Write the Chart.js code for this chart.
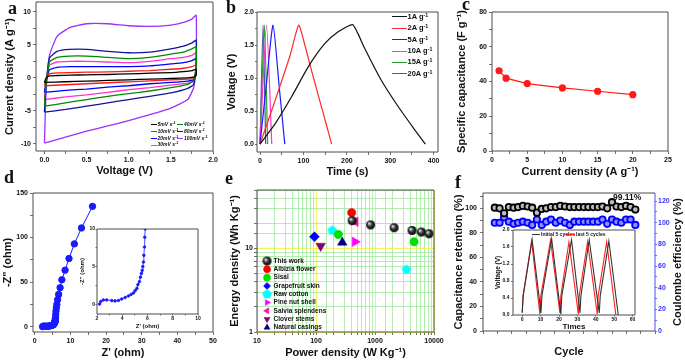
<!DOCTYPE html>
<html>
<head>
<meta charset="utf-8">
<script src="https://cdn.jsdelivr.net/npm/chart.js"></script>
<style>
  body { margin: 0; background: #fff; }
  #fig { position: relative; width: 685px; height: 362px; overflow: hidden; background: #fff;
         font-family: 'Liberation Sans', Arial, sans-serif; font-weight: bold; color: #111; }
  #fig canvas { position: absolute; }
  .tag { position: absolute; font: bold 18px 'Liberation Serif', 'Times New Roman', serif; line-height: 18px; }
  .leg { position: absolute; white-space: nowrap; line-height: 1; }
  .leg i { display: inline-block; vertical-align: middle; height: 0; border-top: 1.5px solid; margin-right: 1px; }
  .txt { position: absolute; white-space: nowrap; line-height: 1; }
  sup { font-size: 70%; vertical-align: 0.45em; line-height: 0; }
</style>
</head>
<body>
<div id="fig"></div>
<script>
// ---------- a: CV loops, current (A/g) along one shared voltage path ----------
const cvVolt = [0.00, 0.02, 0.06, 0.15, 0.30, 0.50, 0.75, 1.00, 1.25, 1.50, 1.65, 1.75, 1.80, 1.80, 1.77, 1.70, 1.50, 1.25, 1.00, 0.75, 0.50, 0.25, 0.00];
const cv5   = [-0.7, 0.0, 0.3, 0.35, 0.4, 0.45, 0.5, 0.6, 0.7, 0.8, 0.95, 1.1, 1.3, 0.4, 0.1, 0.0, -0.1, -0.2, -0.3, -0.4, -0.5, -0.6, -0.7];
const cv10  = [-1.2, -0.2, 0.6, 0.75, 0.8, 0.85, 0.9, 1.0, 1.1, 1.3, 1.45, 1.7, 1.95, 0.5, -0.1, -0.2, -0.3, -0.45, -0.6, -0.75, -0.9, -1.05, -1.2];
const cv20  = [-2.2, -0.5, 1.2, 1.6, 1.7, 1.7, 1.7, 1.7, 1.8, 2.1, 2.3, 2.6, 2.9, 0.8, -0.3, -0.5, -0.7, -0.9, -1.2, -1.4, -1.7, -1.9, -2.2];
const cv30  = [-3.3, -0.8, 1.9, 2.4, 2.5, 2.5, 2.4, 2.3, 2.5, 2.9, 3.1, 3.4, 3.8, 1.0, -0.5, -0.8, -1.1, -1.5, -1.8, -2.2, -2.6, -2.9, -3.3];
const cv40  = [-4.3, -1.0, 2.4, 3.1, 3.3, 3.3, 3.1, 2.9, 3.1, 3.6, 3.9, 4.4, 4.7, 1.5, -0.4, -1.0, -1.5, -2.0, -2.4, -2.8, -3.3, -3.8, -4.3];
const cv80  = [-5.2, -1.0, 3.0, 4.0, 4.3, 4.3, 4.0, 3.8, 3.9, 4.4, 4.8, 5.3, 5.7, 2.0, -1.0, -1.6, -2.3, -2.8, -3.3, -3.8, -4.3, -4.8, -5.2];
const cv100 = [-9.9, -2.0, 3.4, 6.3, 7.6, 8.2, 8.2, 7.9, 7.8, 8.0, 8.4, 8.9, 9.5, 1.0, -1.5, -3.3, -4.6, -5.6, -6.5, -7.3, -8.1, -9.0, -9.9];
const cvRates  = ['5mV', '40mV', '10mV', '80mV', '20mV', '100mV', '30mV'];
const cvSeries = [cv5, cv40, cv10, cv80, cv20, cv100, cv30];
const cvColors = ['#000000', '#008a00', '#ff1a1a', '#14149a', '#0000ff', '#9b30ff', '#ff33cc'];

// ---------- b: charge / discharge ----------
const gcdRates = ['1A', '2A', '5A', '10A', '15A', '20A'];
const gcdT1 = [0, 35, 73, 111, 149, 180, 213, 225, 241, 279, 317, 356, 381];
const gcdV1 = [0, 0.31, 0.72, 1.17, 1.52, 1.70, 1.81, 1.68, 1.45, 0.97, 0.58, 0.22, 0];
const gcdT2 = [0, 20, 45, 70, 89, 100, 120, 145, 165];
const gcdV2 = [0, 0.38, 0.86, 1.36, 1.8, 1.58, 1.08, 0.48, 0];
const gcdT5 = [0, 15, 30, 44, 57];
const gcdV5 = [0, 0.93, 1.8, 0.88, 0];
const gcdT10 = [0, 15, 27];
const gcdV10 = [0, 1.8, 0];
const gcdT15 = [0, 10, 17.5];
const gcdV15 = [0, 1.8, 0];
const gcdT20 = [0, 7, 13];
const gcdV20 = [0, 1.8, 0];
const gcdColors = ['#111111', '#ff2a2a', '#1a1aff', '#ff33cc', '#2ca02c', '#5050b0'];

// ---------- c: capacitance vs current density ----------
const rateC = [1, 2, 5, 10, 15, 20];
const capC = [46.2, 41.9, 38.8, 36.3, 34.4, 32.4];

// ---------- d: Nyquist ----------
const zRe = [2.2, 2.3, 2.5, 2.77, 3.17, 3.43, 3.7, 3.96, 4.23, 4.49, 4.7, 4.89, 5.02, 5.16, 5.24, 5.36, 5.44, 5.52, 5.58, 5.63, 5.68, 5.71, 5.76, 5.78, 5.82, 5.88, 5.95, 6.05, 6.2, 6.4, 6.7, 7.1, 7.6, 8.5, 9.6, 11.1, 13.1, 16.2];
const zIm = [0.02, 0.35, 0.57, 0.57, 0.48, 0.44, 0.5, 0.7, 0.9, 1.1, 1.3, 1.5, 1.8, 2.1, 2.6, 3.0, 3.6, 4.1, 4.5, 5.0, 5.6, 6.5, 7.6, 8.9, 10.0, 13.8, 17.5, 21.3, 25.0, 30.2, 36.2, 43.7, 52.6, 63.4, 76.5, 92.9, 110.8, 135.0];

// ---------- e: Ragone ----------
const ragNames = ['This work', 'Albizia flower', 'Sisal', 'Grapefruit skin', 'Raw cotton', 'Pine nut shell', 'Salvia splendens', 'Clover stems', 'Natural casings'];
const powThis = [410, 841, 2109, 4246, 6109, 8222];
const engThis = [21.5, 19.1, 17.7, 16.4, 15.7, 15.0];
const powAlbizia = [402];   const engAlbizia = [26.8];
const powSisal = [239, 4593]; const engSisal = [14.7, 12.0];
const powGrape = [94];      const engGrape = [13.8];
const powCotton = [189, 3404]; const engCotton = [16.4, 5.6];
const powPine = [457];      const engPine = [12.0];
const powSalvia = [465];    const engSalvia = [20.8];
const powClover = [120];    const engClover = [10.7];
const powCasing = [279];    const engCasing = [11.8];

// ---------- f: cycling ----------
const cycles = [0, 170, 330, 500, 670, 830, 1000, 1170, 1330, 1500, 1670, 1830, 2000, 2170, 2330, 2500, 2670, 2830, 3000, 3170, 3330, 3500, 3670, 3830, 4000, 4170, 4330, 4500, 4670, 4830, 5000];
const retention = [100.5, 100, 96, 101, 100.5, 101, 102, 101.5, 100.5, 96.5, 99.5, 100, 101, 101, 102, 101.5, 101, 101, 101, 101, 101, 101, 101, 101.5, 100, 105, 101.5, 101, 102, 101, 99];
const efficiency = [100, 100, 105, 101, 99, 100, 101, 100, 98, 103, 98, 101, 103, 100, 102, 100, 98, 101, 101, 101, 101, 101, 101, 103, 99, 103, 101, 100, 103, 103, 98];
const initT = [0, 0.5, 5.4, 10.2, 10.7, 16.0, 21.0, 21.5, 26.8, 31.4, 31.9, 36.4, 41.9, 42.4, 47.1, 52.2];
const initV = [0.05, 0.45, 1.77, 0.05, 0.45, 1.79, 0.02, 0.45, 1.77, 0.05, 0.45, 1.77, 0.05, 0.45, 1.74, 0.0];
const lastT = [0, 0.5, 5.1, 9.6, 10.1, 15.4, 20.5, 21.0, 25.4, 30.5, 31.0, 35.5, 40.8, 41.3, 45.9, 50.9];
const lastV = [0.06, 0.45, 1.74, 0.02, 0.45, 1.76, 0.05, 0.45, 1.72, 0.02, 0.45, 1.72, 0.02, 0.45, 1.72, 0.0];

// ---------------------------------------------------------------------------
Chart.defaults.font.family = "'Liberation Sans', Arial, sans-serif";
Chart.defaults.font.weight = 'bold';
Chart.defaults.color = '#111';

const fig = document.getElementById('fig');
const AX = '#4d4d4d';

const onStep = (v, every) => Math.abs(v / every - Math.round(v / every)) < 1e-6;
const isDecade = v => Math.abs(Math.log10(v) - Math.round(Math.log10(v))) < 1e-9;
const pts = (xs, ys) => xs.map((x, i) => ({ x, y: ys[i] }));

function lineSet(xs, ys, color, width) {
    return { data: pts(xs, ys), borderColor: color, backgroundColor: color, borderWidth: width || 1.2,
             showLine: true, pointRadius: 0, tension: 0.2 };
}

// box around the plot area; right side can be coloured separately
const frame = {
    id: 'frame',
    beforeDraw(chart, args, opts) {
        if (!opts.fill) return;
        const a = chart.chartArea;
        chart.ctx.fillStyle = opts.fill;
        chart.ctx.fillRect(a.left, a.top, a.right - a.left, a.bottom - a.top);
    },
    afterDraw(chart, args, opts) {
        const { ctx, chartArea: a } = chart;
        const c = opts.color || AX;
        const line = (x1, y1, x2, y2, col) => {
            ctx.strokeStyle = col; ctx.beginPath(); ctx.moveTo(x1, y1); ctx.lineTo(x2, y2); ctx.stroke();
        };
        ctx.save();
        ctx.lineWidth = 1;
        line(a.left, a.top, a.right, a.top, c);
        line(a.left, a.bottom, a.right, a.bottom, c);
        line(a.left, a.top, a.left, a.bottom, c);
        line(a.right, a.top, a.right, a.bottom, opts.right || c);
        ctx.restore();
    }
};

// moves the in-plot legend of panel e to the lower left
const legendSpot = {
    id: 'legendSpot',
    afterLayout(chart, args, opts) {
        const L = chart.legend, a = chart.chartArea;
        if (!L || !opts.on) return;
        L.left = a.left + opts.dx; L.right = L.left + L.width;
        L.top = a.top + opts.dy; L.bottom = a.bottom + 40;
    }
};

function axis(o) {
    const col = o.color || AX;
    return {
        type: o.type || 'linear', position: o.pos, min: o.min, max: o.max,
        afterFit(s) {
            if (s.isHorizontal()) s.height = o.size; else s.width = o.size;
            s.paddingTop = s.paddingBottom = s.paddingLeft = s.paddingRight = 0;
        },
        border: { display: false },
        grid: Object.assign({ drawOnChartArea: false, tickLength: o.tickLen ?? 3, color: col, tickColor: col, lineWidth: 0.8 }, o.grid || {}),
        ticks: {
            stepSize: o.step, includeBounds: false, autoSkip: false, maxRotation: 0, minRotation: 0,
            padding: o.tickPad ?? 2, color: o.tickColor || '#111',
            font: { size: o.font || 7, weight: 'bold' },
            callback: o.label || (v => onStep(v, o.every) ? v.toFixed(o.digits || 0) : '')
        },
        title: { display: !!o.title, text: o.title, color: '#111',
                 font: { size: o.titleSize || 11, weight: 'bold' },
                 padding: { top: o.titlePad || 0, bottom: o.titlePad || 0 } }
    };
}

function makeChart(left, top, w, h, pad, datasets, scales, pluginOpts) {
    const canvas = document.createElement('canvas');
    canvas.width = w; canvas.height = h;
    canvas.style.left = left + 'px'; canvas.style.top = top + 'px';
    canvas.style.width = w + 'px'; canvas.style.height = h + 'px';
    fig.appendChild(canvas);
    return new Chart(canvas, {
        type: 'scatter',
        data: { datasets },
        options: {
            responsive: false, devicePixelRatio: 1, animation: false, events: [],
            layout: { padding: pad },
            plugins: Object.assign({ legend: { display: false }, tooltip: { enabled: false }, frame: {}, legendSpot: {} }, pluginOpts || {}),
            scales
        },
        plugins: [frame, legendSpot]
    });
}

function legendRow(x, yMid, color, lineW, html, size, italic) {
    const d = document.createElement('div');
    d.className = 'leg';
    d.style.left = x + 'px';
    d.style.top = (yMid - size * 0.55) + 'px';
    d.style.fontSize = size + 'px';
    if (italic) d.style.fontStyle = 'italic';
    d.innerHTML = '<i style="width:' + lineW + 'px;border-color:' + color + '"></i>' + html;
    fig.appendChild(d);
}

function addText(cls, x, y, html, css) {
    const d = document.createElement('div');
    d.className = cls;
    d.style.left = x + 'px'; d.style.top = y + 'px';
    d.innerHTML = html;
    if (css) d.style.cssText += css;
    fig.appendChild(d);
    return d;
}

function sphereMark(r) {
    const c = document.createElement('canvas');
    c.width = c.height = 2 * r + 2;
    const g = c.getContext('2d');
    const m = r + 1;
    const grad = g.createRadialGradient(m - r * 0.35, m - r * 0.35, r * 0.1, m, m, r);
    grad.addColorStop(0, '#e6e6e6');
    grad.addColorStop(0.45, '#3a3a3a');
    grad.addColorStop(1, '#000');
    g.fillStyle = grad;
    g.beginPath(); g.arc(m, m, r, 0, Math.PI * 2); g.fill();
    return c;
}

function pentagonMark(r, color) {
    const c = document.createElement('canvas');
    c.width = c.height = 2 * r + 2;
    const g = c.getContext('2d');
    const m = r + 1;
    g.fillStyle = color;
    g.beginPath();
    for (let k = 0; k < 5; k++) {
        const ang = -Math.PI / 2 + k * 2 * Math.PI / 5;
        g.lineTo(m + r * Math.cos(ang), m + r * Math.sin(ang));
    }
    g.closePath(); g.fill();
    return c;
}

// ---------- panel a ----------
makeChart(0, 0, 225, 181, { top: 2, right: 12 },
    cvSeries.map((s, i) => Object.assign(lineSet(cvVolt, s, cvColors[i], 1.3), { tension: 0.15 })),
    {
        x: axis({ pos: 'bottom', min: -0.1, max: 2.0, step: 0.25, every: 0.5, digits: 1, size: 30, title: 'Voltage (V)', titlePad: 3.7 }),
        y: axis({ pos: 'left', min: -11.1, max: 11.5, step: 2.5, every: 5, size: 36, title: 'Current density (A g⁻¹)', titlePad: 3.4 })
    });
cvRates.forEach((r, i) => {
    const col = i % 2, row = Math.floor(i / 2);
    legendRow(col ? 177 : 150.5, 125 + row * 6.7, cvColors[i], 6, r + ' s<sup>-1</sup>', 5, true);
});

// ---------- panel b ----------
const gcdT = [gcdT1, gcdT2, gcdT5, gcdT10, gcdT15, gcdT20];
const gcdV = [gcdV1, gcdV2, gcdV5, gcdV10, gcdV15, gcdV20];
makeChart(225, 0, 230, 181, { top: 12, right: 17 },
    gcdRates.map((r, i) => lineSet(gcdT[i], gcdV[i], gcdColors[i], 1.2)),
    {
        x: axis({ pos: 'bottom', min: -7, max: 410, step: 50, every: 100, size: 29, title: 'Time (s)', titlePad: 2.7 }),
        y: axis({ pos: 'left', min: -0.12, max: 2.0, step: 0.25, every: 0.5, digits: 1, size: 32, tickLen: 2, tickPad: 1, title: 'Voltage (V)', titlePad: 0.2 })
    });
gcdRates.forEach((r, i) => legendRow(391.5, 17 + i * 11.4, gcdColors[i], 15, r + ' g<sup>-1</sup>', 7.5));

// ---------- panel c ----------
makeChart(455, 0, 230, 181, { top: 12, right: 17 },
    [{ data: pts(rateC, capC), showLine: true, borderColor: '#ff1a1a', backgroundColor: '#ff1a1a', borderWidth: 1.2, pointRadius: 3 }],
    {
        x: axis({ pos: 'bottom', min: 0, max: 25, step: 2.5, every: 5, size: 30, title: 'Current density (A g⁻¹)', titlePad: 2.7 }),
        y: axis({ pos: 'left', min: 0, max: 80, step: 10, every: 20, size: 37, title: 'Specific capacitance (F g⁻¹)', titlePad: 0.2 })
    });

// ---------- panel d ----------
makeChart(0, 181, 225, 181, { top: 12, right: 12 },
    [{ data: pts(zRe, zIm), showLine: true, borderColor: '#1a1aff', backgroundColor: '#1a1aff', borderWidth: 1, pointRadius: 3.2 }],
    {
        x: axis({ pos: 'bottom', min: -0.5, max: 50, step: 5, every: 10, size: 30, title: "Z' (ohm)", titlePad: 2.7 }),
        y: axis({ pos: 'left', min: -6, max: 150, step: 25, every: 50, size: 33, title: '-Z" (ohm)', titlePad: 1.7 })
    });
makeChart(70, 222, 135, 112, { top: 7, right: 7 },
    [{ data: pts(zRe, zIm), showLine: true, borderColor: '#1a1aff', backgroundColor: '#1a1aff', borderWidth: 0.8, pointRadius: 1.3 }],
    {
        x: axis({ pos: 'bottom', min: 2, max: 10, step: 1, every: 2, size: 20, font: 5, tickLen: 1.5, tickPad: 0.5, title: "Z' (ohm)", titleSize: 6, titlePad: 4.4 }),
        y: axis({ pos: 'left', min: -1.3, max: 10, step: 2.5, every: 5, size: 27, font: 5, tickLen: 1.5, tickPad: 0.5, title: '-Z" (ohm)', titleSize: 6, titlePad: 9 })
    },
    { frame: { fill: '#fff' } });

// ---------- panel e ----------
const sphere = sphereMark(4.5);
const penta = pentagonMark(5, '#00ffff');
const mark = (xs, ys, name, color, style, r, rot) => ({
    label: name, data: pts(xs, ys), pointStyle: style, pointRadius: r, pointRotation: rot || 0,
    backgroundColor: color, borderColor: color, borderWidth: 0.5
});
const decadeGrid = { drawOnChartArea: true, tickColor: AX, color: c => c.tick && isDecade(c.tick.value) ? '#f0f03c' : '#9ee89e' };
makeChart(225, 181, 230, 181, { top: 9, right: 21 },
    [
        mark(powThis, engThis, ragNames[0], '#000', sphere, 4.5),
        mark(powAlbizia, engAlbizia, ragNames[1], '#ff0000', 'circle', 4.2),
        mark(powSisal, engSisal, ragNames[2], '#00e000', 'circle', 4.2),
        mark(powGrape, engGrape, ragNames[3], '#0000ff', 'rectRot', 5),
        mark(powCotton, engCotton, ragNames[4], '#00ffff', penta, 5),
        mark(powPine, engPine, ragNames[5], '#ff00ff', 'triangle', 5.5, 90),
        mark(powSalvia, engSalvia, ragNames[6], '#ff1493', 'triangle', 5.5, 270),
        mark(powClover, engClover, ragNames[7], '#800080', 'triangle', 5.5, 180),
        mark(powCasing, engCasing, ragNames[8], '#000080', 'triangle', 5.5)
    ],
    {
        x: axis({ type: 'logarithmic', pos: 'bottom', min: 10, max: 10000, size: 30, title: 'Power density (W Kg⁻¹)', titlePad: 2.7,
                  label: v => isDecade(v) ? String(Math.round(v)) : '', grid: decadeGrid }),
        y: axis({ type: 'logarithmic', pos: 'left', min: 1, max: 50, size: 32, tickPad: 1, title: 'Energy density (Wh Kg⁻¹)', titlePad: 3.4,
                  label: v => isDecade(v) ? String(Math.round(v)) : '', grid: decadeGrid })
    },
    {
        legend: { display: true, position: 'chartArea', align: 'start',
                  labels: { usePointStyle: true, boxHeight: 5, padding: 1.8, color: '#111', font: { size: 6.5, weight: 'bold' } } },
        legendSpot: { on: true, dx: 5, dy: 66 }
    });

// ---------- panel f ----------
makeChart(448, 181, 237, 181, { top: 12 },
    [
        { data: pts(cycles, retention), yAxisID: 'y', pointRadius: 3.2, borderWidth: 1.8, borderColor: '#000', backgroundColor: '#bdbdbd' },
        { data: pts(cycles, efficiency), yAxisID: 'y2', pointRadius: 3.2, borderWidth: 1.8, borderColor: '#0000ff', backgroundColor: '#8c8cff' }
    ],
    {
        x: axis({ pos: 'bottom', min: -420, max: 5700, step: 500, every: 1000, size: 31, title: 'Cycle', titlePad: 3.7 }),
        y: axis({ pos: 'left', min: 0, max: 112.5, step: 10, every: 20, size: 35, tickPad: 3, title: 'Capacitance retention (%)', titlePad: 4.4 }),
        y2: axis({ pos: 'right', min: 0, max: 127.5, step: 10, every: 20, size: 30, tickLen: 2, tickPad: 1, color: '#4d4dff', tickColor: '#3333ff' })
    },
    { frame: { right: '#4d4dff' } });
makeChart(490, 222, 150, 112, { top: 8, right: 5 },
    [lineSet(initT, initV, '#333333', 1.1), lineSet(lastT, lastV, '#ff2020', 1.1)].map(d => Object.assign(d, { tension: 0 })),
    {
        x: axis({ pos: 'bottom', min: -5, max: 61.3, step: 10, every: 10, size: 19, font: 5, tickLen: 1.5, tickPad: 0, title: 'Times', titleSize: 8, titlePad: 2.5 }),
        y: axis({ pos: 'left', min: 0, max: 2.0, step: 0.4, every: 0.4, digits: 1, size: 23, font: 5, tickLen: 2, tickPad: 1.5, title: 'Voltage (V)', titleSize: 6.5, titlePad: 4.4 })
    },
    { frame: { fill: '#fff' } });
legendRow(531.5, 235, '#333333', 8.5, 'Initial 5 cycles', 5);
legendRow(566, 235, '#ff2020', 9, 'last 5 cycles', 5);
addText('txt', 613, 193, '99.11%', 'font-size:8.5px;');
addText('txt', 676.5, 262, 'Coulombe efficiency (%)', 'font-size:11px;transform:translate(-50%,-50%) rotate(-90deg);');

// ---------- panel letters ----------
addText('tag', 8, -1, 'a');
addText('tag', 226, -2, 'b');
addText('tag', 462, -5, 'c');
addText('tag', 4, 168, 'd');
addText('tag', 225, 169, 'e');
addText('tag', 455, 173, 'f');
</script>
</body>
</html>
